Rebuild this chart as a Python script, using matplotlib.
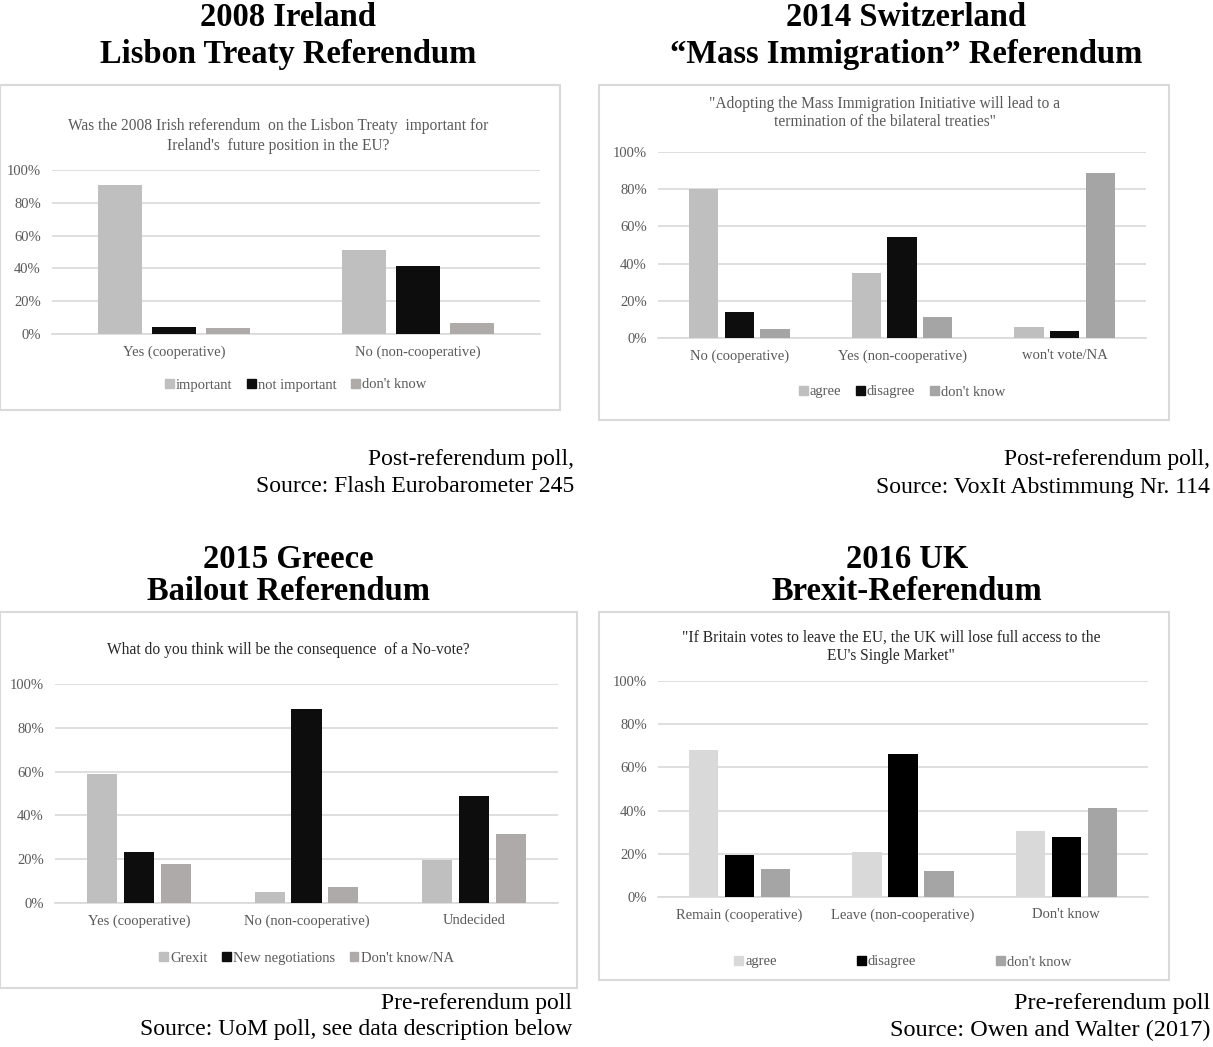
import numpy as np
import matplotlib.pyplot as plt
from matplotlib.patches import Rectangle, Patch

W, H = 1213, 1047

# 2008 Ireland
ie_cats = ['Yes (cooperative)', 'No (non-cooperative)']
ie_series = ['important', 'not important', "don't know"]
ie_vals = [[0.91, 0.51], [0.045, 0.415], [0.035, 0.07]]
ie_cols = ['#bfbfbf', '#0d0d0d', '#aeaaaa']

# 2014 Switzerland
ch_cats = ['No (cooperative)', 'Yes (non-cooperative)', "won't vote/NA"]
ch_series = ['agree', 'disagree', "don't know"]
ch_vals = [[0.80, 0.35, 0.06], [0.14, 0.545, 0.04], [0.05, 0.115, 0.885]]
ch_cols = ['#bfbfbf', '#0d0d0d', '#a5a5a5']

# 2015 Greece
gr_cats = ['Yes (cooperative)', 'No (non-cooperative)', 'Undecided']
gr_series = ['Grexit', 'New negotiations', "Don't know/NA"]
gr_vals = [[0.59, 0.05, 0.195], [0.235, 0.885, 0.49], [0.18, 0.075, 0.315]]
gr_cols = ['#bfbfbf', '#0d0d0d', '#aeaaaa']

# 2016 UK
uk_cats = ['Remain (cooperative)', 'Leave (non-cooperative)', "Don't know"]
uk_series = ['agree', 'disagree', "don't know"]
uk_vals = [[0.68, 0.21, 0.305], [0.195, 0.66, 0.28], [0.13, 0.12, 0.41]]
uk_cols = ['#d9d9d9', '#000000', '#a5a5a5']

plt.rcParams['font.family'] = ['Liberation Serif', 'DejaVu Serif']
fig = plt.figure(figsize=(W / 100, H / 100), dpi=100)
txt = '#595959'


def fx(x):
    return x / W


def fy(y):
    return 1 - y / H


def panel(box, axpx, cats, series, vals, cols, title, question, qpos, legy,
          caption, capx, capy, qcolor=txt, colsp=1.0, capsize=17):
    x0, y0, x1, y1 = box
    fig.patches.append(Rectangle((fx(x0), fy(y1)), fx(x1 - x0), (y1 - y0) / H,
                                 transform=fig.transFigure, fill=False,
                                 edgecolor='#d9d9d9', lw=1.5))
    tx = title[2]
    fig.text(fx(tx), fy(title[3]), title[0], ha='center', va='center',
             fontsize=23.5, fontweight='bold')
    fig.text(fx(tx), fy(title[4]), title[1], ha='center', va='center',
             fontsize=23.5, fontweight='bold')
    fig.text(fx(qpos[0]), fy(qpos[1]), question, ha='center', va='center',
             fontsize=11.2, color=qcolor, linespacing=1.25)
    ax_l, ax_t, ax_r, ax_b = axpx
    ax = fig.add_axes([fx(ax_l), fy(ax_b), fx(ax_r - ax_l), (ax_b - ax_t) / H])
    n = len(cats)
    x = np.arange(n)
    w = 0.18
    step = 0.22
    for i, (s, v, c) in enumerate(zip(series, vals, cols)):
        ax.bar(x + (i - 1) * step, v, w, color=c, label=s, zorder=3)
    ax.set_xlim(-0.5, n - 0.5)
    ax.set_ylim(0, 1)
    ticks = np.arange(0, 1.01, 0.2)
    ax.set_yticks(ticks)
    ax.set_yticklabels(['%d%%' % round(t * 100) for t in ticks])
    ax.set_xticks(x)
    ax.set_xticklabels(cats)
    ax.tick_params(length=0, labelsize=10.5, colors=txt, pad=8)
    ax.grid(axis='y', color='#d9d9d9', lw=1.2, zorder=0)
    for sp in ['left', 'right', 'top']:
        ax.spines[sp].set_visible(False)
    ax.spines['bottom'].set_color('#d9d9d9')
    ax.spines['bottom'].set_linewidth(1.2)
    ly = (ax_b - legy) / (ax_b - ax_t)
    handles = [Patch(color=c, label=s) for s, c in zip(series, cols)]
    leg = ax.legend(handles=handles, loc='center', bbox_to_anchor=(0.5, ly),
                    ncol=3, frameon=False, fontsize=10.5, handlelength=0.6,
                    handleheight=0.6, handletextpad=0.15, columnspacing=colsp)
    for t in leg.get_texts():
        t.set_color(txt)
    fig.text(fx(capx), fy(capy[0]), caption[0], ha='right', va='center',
             fontsize=capsize)
    fig.text(fx(capx), fy(capy[1]), caption[1], ha='right', va='center',
             fontsize=capsize)
    return ax


panel((0, 85, 560, 410), (52, 170, 540, 334), ie_cats, ie_series, ie_vals, ie_cols,
      ('2008 Ireland', 'Lisbon Treaty Referendum', 288, 17, 55),
      "Was the 2008 Irish referendum  on the Lisbon Treaty  important for\nIreland's  future position in the EU?",
      (278, 136), 385, ('Post-referendum poll,', 'Source: Flash Eurobarometer 245'),
      574, (460, 487))

panel((599, 85, 1169, 420), (658, 152, 1146, 338), ch_cats, ch_series, ch_vals, ch_cols,
      ('2014 Switzerland', '\u201cMass Immigration\u201d Referendum', 906, 17, 55),
      '"Adopting the Mass Immigration Initiative will lead to a\ntermination of the bilateral treaties"',
      (885, 113), 392, ('Post-referendum poll,', 'Source: VoxIt Abstimmung Nr. 114'),
      1210, (460, 487))

panel((0, 612, 577, 988), (55, 684, 558, 903), gr_cats, gr_series, gr_vals, gr_cols,
      ('2015 Greece', 'Bailout Referendum', 288, 560, 592),
      'What do you think will be the consequence  of a No-vote?',
      (288, 650), 958, ('Pre-referendum poll', 'Source: UoM poll, see data description below'),
      572, (1003, 1030), qcolor='#262626')

panel((599, 612, 1169, 980), (658, 681, 1148, 897), uk_cats, uk_series, uk_vals, uk_cols,
      ('2016 UK', 'Brexit-Referendum', 907, 560, 592),
      '"If Britain votes to leave the EU, the UK will lose full access to the\nEU\'s Single Market"',
      (891, 647), 962, ('Pre-referendum poll', 'Source: Owen and Walter (2017)'),
      1210, (1003, 1030), qcolor='#262626', colsp=5.5, capsize=17.5)

fig.savefig('out.png', dpi=100)
